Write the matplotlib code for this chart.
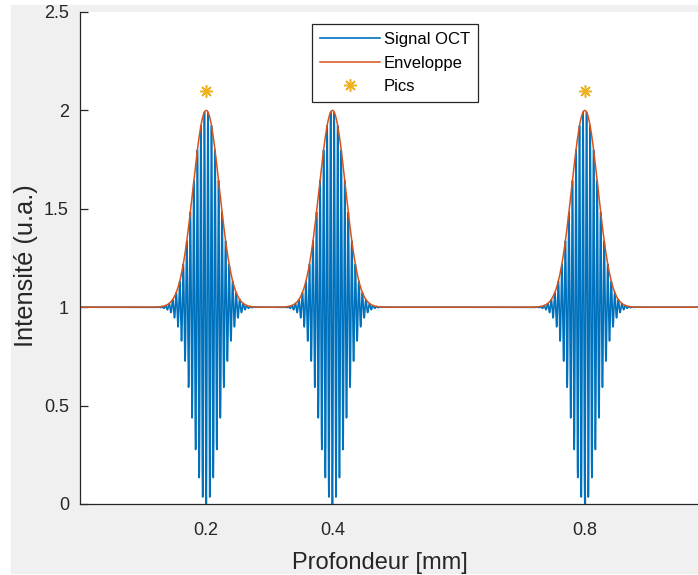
import matplotlib
matplotlib.use("Agg")
import matplotlib.pyplot as plt
from matplotlib.patches import Rectangle
import numpy as np

# data
pic_positions = [0.2, 0.4, 0.8]      # mm
pic_amplitudes = [1.0, 1.0, 1.0]
pic_marker_y = [2.1, 2.1, 2.1]
baseline = 1.0
env_width = 0.0295                   # gaussian 1/e half width (mm)
wavelength = 0.0056                  # carrier period (mm)
x_ticks = [0.2, 0.4, 0.8]
y_ticks = [0, 0.5, 1, 1.5, 2, 2.5]

plt.rcParams['font.family'] = ['Liberation Sans', 'DejaVu Sans']

# build the OCT signal and its envelope
z = np.linspace(0, 1, 40001)
envelope = np.full_like(z, baseline)
signal = np.full_like(z, baseline)
for p, a in zip(pic_positions, pic_amplitudes):
    g = a * np.exp(-((z - p) / env_width) ** 2)
    envelope += g
    signal += g * np.cos(2 * np.pi * (z - p) / wavelength + np.pi)

fig = plt.figure(figsize=(6.98, 5.75), dpi=100, facecolor='white')
# matlab grey figure background
fig.patches.append(Rectangle((11 / 698, 2 / 575), 1, 1 - 7 / 575,
                             transform=fig.transFigure, color='#f0f0f0', zorder=-10))

ax = fig.add_axes([80 / 698, 71 / 575, 631 / 698, 492 / 575])
ax.set_facecolor('white')

ax.plot(z, signal, color='#0072BD', lw=1.2, label='Signal OCT')
ax.plot(z, envelope, color='#D95319', lw=1.1, label='Enveloppe')
ax.plot(pic_positions, pic_marker_y, linestyle='none', marker=(8, 2, 0),
        markersize=9, markeredgewidth=1.1, color='#EDB120', label='Pics')

ax.set_xlim(0, 1)
ax.set_ylim(0, 2.5)
ax.set_xticks(x_ticks)
ax.set_xticklabels(['0.2', '0.4', '0.8'])
ax.set_yticks(y_ticks)
ax.set_yticklabels(['0', '0.5', '1', '1.5', '2', '2.5'])

for side in ['top', 'right']:
    ax.spines[side].set_visible(False)
for side in ['left', 'bottom']:
    ax.spines[side].set_color('#262626')
    ax.spines[side].set_linewidth(0.9)

ax.tick_params(direction='in', length=6, width=0.9, color='#262626',
               labelcolor='#262626', labelsize=13)
ax.tick_params(axis='x', pad=13)
ax.tick_params(axis='y', pad=8)

ax.set_xlabel('Profondeur [mm]', fontsize=17, color='#262626')
ax.set_ylabel('Intensité (u.a.)', fontsize=18.3, color='#262626')
ax.xaxis.set_label_coords(300 / 631, -48 / 492)
ax.yaxis.set_label_coords(-42 / 631, 0.485)

leg = ax.legend(loc='upper left', bbox_to_anchor=(232 / 631, 1 - 12 / 492),
                fontsize=12, frameon=True, fancybox=False, edgecolor='#262626',
                framealpha=1, borderpad=0.5, handlelength=3.6, handletextpad=0.2,
                labelspacing=0.5, borderaxespad=0)
leg.get_frame().set_linewidth(0.9)

fig.savefig('out.png', dpi=100, facecolor=fig.get_facecolor())
